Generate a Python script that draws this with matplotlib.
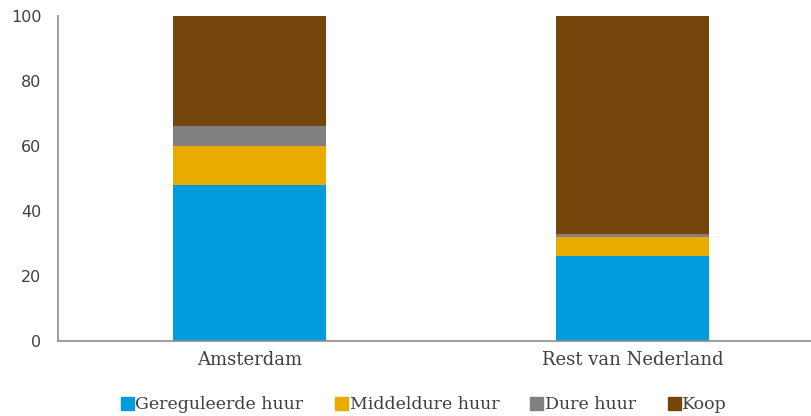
import matplotlib
matplotlib.use('Agg')
import matplotlib.pyplot as plt
import matplotlib.patches as mpatches
import numpy as np

# Données
regions = ['Amsterdam', 'Rest van Nederland']
series = ['Gereguleerde huur', 'Middeldure huur', 'Dure huur', 'Koop']
gereguleerd = [48, 26]
middelduur = [12, 6]
duur = [6, 1]
koop = [34, 67]
colors = ['#009CDE', '#E9AB00', '#808080', '#75450B']

fig = plt.figure(figsize=(8.12, 4.16), dpi=100)
ax = fig.add_axes([0.0714, 0.1803, 0.9286, 0.7813])

x = np.arange(len(regions))
bottom = np.zeros(len(regions))
for vals, col in zip([gereguleerd, middelduur, duur, koop], colors):
    ax.bar(x, vals, width=0.4, bottom=bottom, color=col, edgecolor='none')
    bottom += np.array(vals)

ax.set_xlim(-0.5, 1.4687)
ax.set_ylim(0, 100)
ax.set_yticks(range(0, 101, 20))
ax.set_xticks(x)
ax.set_xticklabels(regions, family='DejaVu Serif', fontsize=13, color='#404040')
for lab in ax.get_yticklabels():
    lab.set_fontsize(11.5)
    lab.set_color('#404040')
ax.tick_params(length=0, pad=12)
ax.tick_params(axis='x', pad=7)

for s in ['top', 'right']:
    ax.spines[s].set_visible(False)
for s in ['left', 'bottom']:
    ax.spines[s].set_color('#8c8c8c')
    ax.spines[s].set_linewidth(1.2)

handles = [mpatches.Patch(color=c, label=l) for c, l in zip(colors, series)]
fig.legend(handles=handles, loc='center', bbox_to_anchor=(0.522, 0.027), ncol=4,
           frameon=False, prop={'family': 'DejaVu Serif', 'size': 12.5},
           handlelength=0.75, handleheight=0.75, handletextpad=0.1, columnspacing=1.8,
           labelcolor='#404040')

fig.savefig('out.png', dpi=100)
plt.close('all')
